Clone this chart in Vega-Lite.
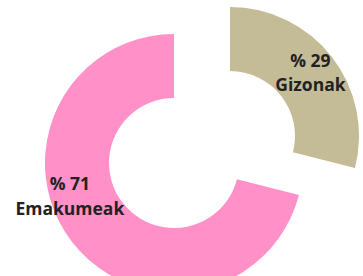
{
  "$schema": "https://vega.github.io/schema/vega-lite/v6.json",
  "autosize": "none",
  "width": 348,
  "height": 226,
  "padding": {"left": 0, "top": 50, "right": 15, "bottom": 0},
  "background": "white",
  "config": {"view": {"stroke": null}},
  "data": {"values": [
    {"name": "Gizonak", "value": 29},
    {"name": "Emakumeak", "value": 71}
  ]},
  "transform": [
    {"stack": "value", "groupby": [], "sort": [{"field": "name", "order": "descending"}], "as": ["v0", "v1"]},
    {"calculate": "(datum.v0 + datum.v1) / 2", "as": "mid"},
    {"calculate": "['% ' + datum.value, datum.name]", "as": "label"}
  ],
  "encoding": {
    "theta": {"field": "v0", "type": "quantitative", "scale": {"domain": [0, 100]}},
    "theta2": {"field": "v1"},
    "color": {"field": "name", "type": "nominal", "scale": {"domain": ["Gizonak", "Emakumeak"], "range": ["#C4BC96", "#FF91C8"]}, "legend": null}
  },
  "layer": [
    {
      "transform": [{"filter": "datum.name == 'Emakumeak'"}],
      "mark": {"type": "arc", "outerRadius": 129, "innerRadius": 65}
    },
    {
      "transform": [{"filter": "datum.name == 'Gizonak'"}],
      "mark": {"type": "arc", "outerRadius": 129, "innerRadius": 65, "xOffset": 56, "yOffset": -27}
    },
    {
      "transform": [{"filter": "datum.name == 'Emakumeak'"}],
      "mark": {"type": "text", "radius": 109, "thetaOffset": 0.36, "dy": -10, "font": "Open Sans", "fontWeight": "bold", "fontSize": 17.5, "lineHeight": 25, "color": "#222222", "baseline": "middle", "align": "center"},
      "encoding": {
        "theta": {"field": "mid", "type": "quantitative", "scale": {"domain": [0, 100]}},
        "theta2": null,
        "color": null,
        "text": {"field": "label"}
      }
    },
    {
      "transform": [{"filter": "datum.name == 'Gizonak'"}],
      "mark": {"type": "text", "radius": 100, "thetaOffset": 0.04, "xOffset": 55, "yOffset": -27, "dy": -16, "font": "Open Sans", "fontWeight": "bold", "fontSize": 17.5, "lineHeight": 24, "color": "#222222", "baseline": "middle", "align": "center"},
      "encoding": {
        "theta": {"field": "mid", "type": "quantitative", "scale": {"domain": [0, 100]}},
        "theta2": null,
        "color": null,
        "text": {"field": "label"}
      }
    }
  ]
}
